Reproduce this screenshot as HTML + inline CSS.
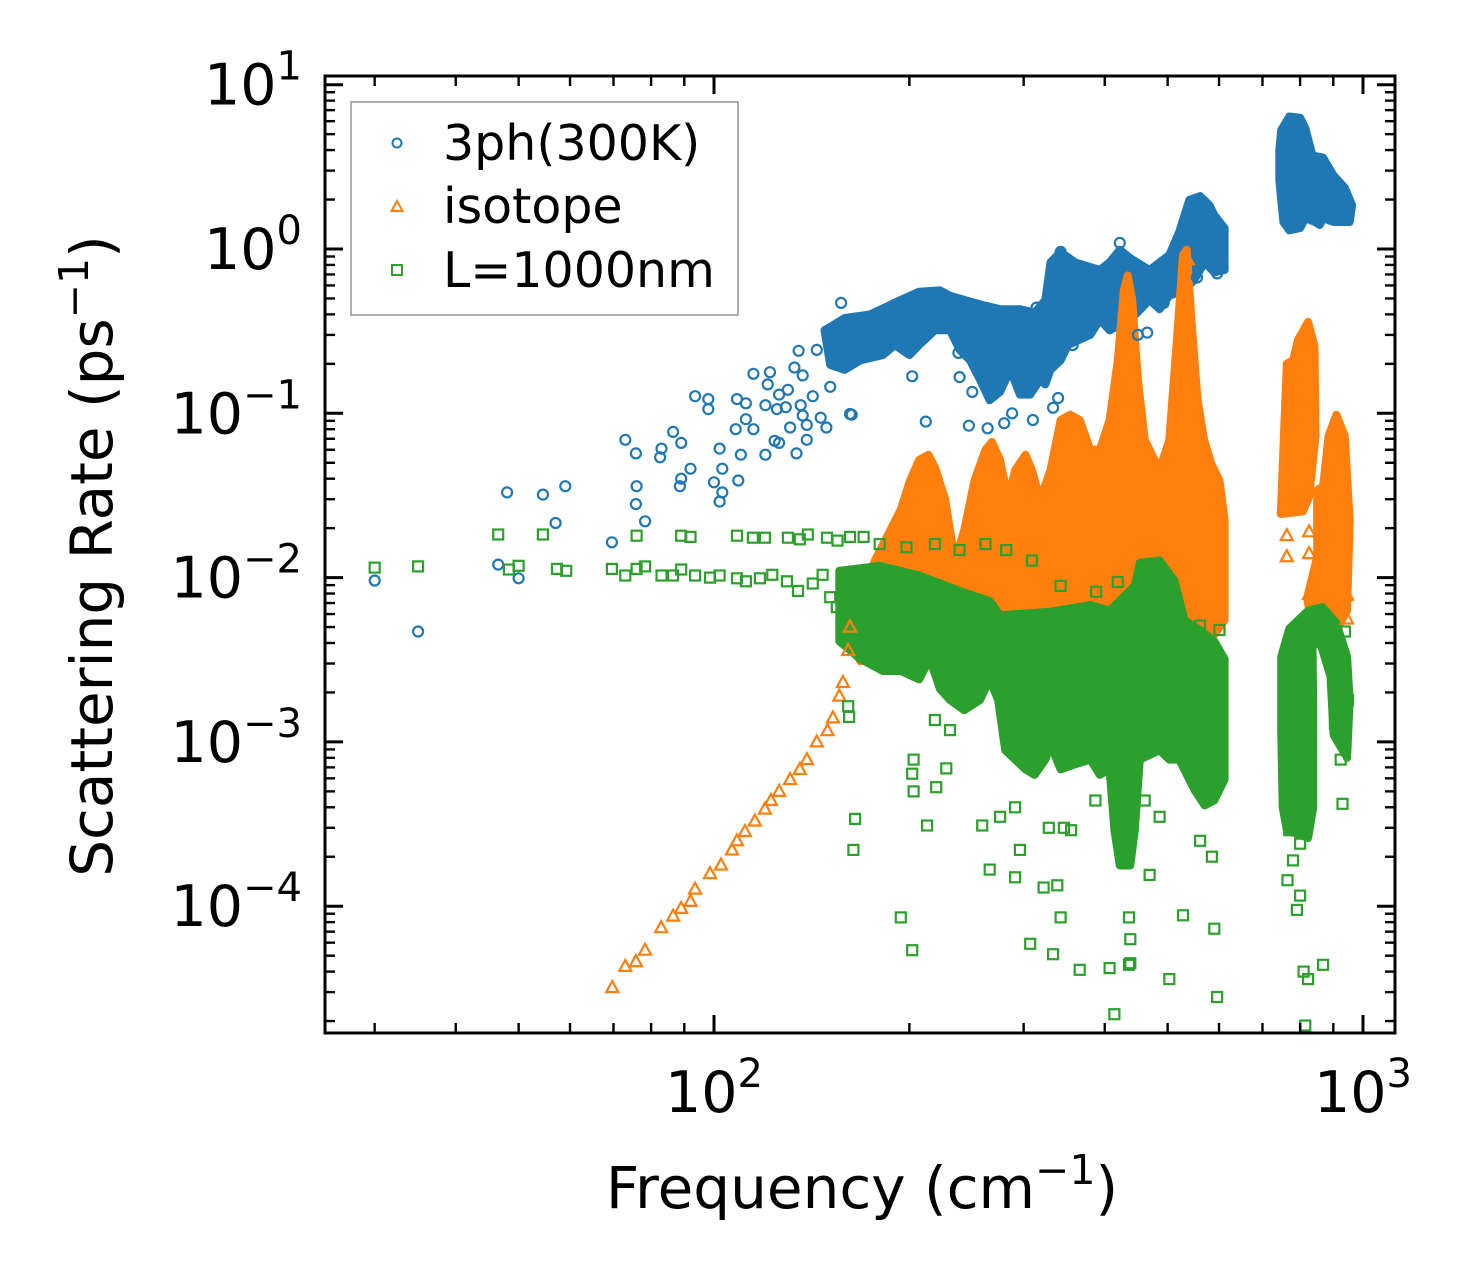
<!DOCTYPE html>
<html><head><meta charset="utf-8"><style>
html,body{margin:0;padding:0;background:#fff}
svg{display:block;font-family:"DejaVu Sans","Liberation Sans",sans-serif}
</style></head><body>
<svg id="chart" width="1472" height="1283" viewBox="0 0 1472 1283" xmlns="http://www.w3.org/2000/svg">
<rect width="1472" height="1283" fill="#fff"/>
<g id="dense"></g>
<g id="marks"></g>
<g id="axes"></g>
<g id="legend">
<rect x="351" y="102" width="387" height="213" fill="#fff" stroke="#999" stroke-width="1.6"/>
<circle cx="397" cy="143" r="4.5" fill="none" stroke="#1f77b4" stroke-width="2"/>
<text x="443" y="160" font-size="49">3ph(300K)</text>
<polygon points="397,201 402.5,211 391.5,211" fill="none" stroke="#ff7f0e" stroke-width="2"/>
<text x="443" y="223" font-size="49">isotope</text>
<rect x="392" y="265" width="10" height="10" fill="none" stroke="#2ca02c" stroke-width="2"/>
<text x="443" y="287" font-size="49">L=1000nm</text>
</g>
<text x="862" y="1208" font-size="58" text-anchor="middle">Frequency (cm<tspan dy="-24" font-size="41">−1</tspan><tspan dy="24">)</tspan></text>
<text transform="translate(112,556) rotate(-90)" font-size="58" text-anchor="middle">Scattering Rate (ps<tspan dy="-24" font-size="41">−1</tspan><tspan dy="24">)</tspan></text>
</svg>
<script>
// ---- data (frequency cm^-1, scattering rate ps^-1) ----
const blueFreq=[30,35,46.5,48,50,54.5,59,57,69.6,73,75.8,76,75.8,78.3,83,82.6,86.5,89,92,89,88.6,93.5,98,98,102,103,100,103,102,109,108.5,112,112,115,110,108,115,122,121,120,124,120,126,130,125,129,131,134,136,137,139,139,133,135,144,137,142,146,149,151,155,156,162,126,163,212,247,264,288,310,333,339,250,239,202,238,357,450,465,493,555,596,157,257,314,330,422,342,280];
const blueRate=[0.0096,0.0047,0.012,0.033,0.0099,0.032,0.036,0.0215,0.0164,0.069,0.057,0.036,0.028,0.022,0.061,0.054,0.077,0.066,0.046,0.040,0.036,0.127,0.122,0.106,0.061,0.046,0.038,0.033,0.029,0.039,0.122,0.115,0.092,0.080,0.056,0.080,0.174,0.178,0.15,0.112,0.068,0.056,0.13,0.139,0.106,0.109,0.082,0.057,0.112,0.097,0.085,0.069,0.19,0.24,0.243,0.17,0.127,0.094,0.082,0.145,0.295,0.197,0.099,0.066,0.098,0.089,0.084,0.081,0.1,0.091,0.108,0.124,0.135,0.166,0.168,0.233,0.26,0.30,0.31,0.47,0.67,0.71,0.47,0.44,0.44,0.51,1.09,0.96,0.087];
const blueBandFreq=[148,159,174,194,207,223,231,243,257,276,296,312,324,330,342,360,393,407,422,438,469,503,521,540,561,580,590,612,612,590,570,550,531,503,486,469,438,407,393,380,351,342,330,324,318,307,296,286,276,266,257,248,239,231,219,207,200,190,182,168,159,151];
const blueBandRate=[0.32,0.38,0.40,0.49,0.55,0.56,0.52,0.49,0.46,0.43,0.43,0.41,0.49,0.83,0.96,0.83,0.745,0.83,0.99,0.88,0.745,0.92,1.27,1.99,2.1,1.85,1.61,1.34,0.745,0.72,0.83,0.65,0.56,0.52,0.43,0.49,0.37,0.32,0.37,0.30,0.26,0.21,0.184,0.15,0.16,0.13,0.13,0.184,0.135,0.12,0.16,0.21,0.243,0.32,0.32,0.26,0.226,0.26,0.226,0.21,0.184,0.197];
const blueHighFreq=[748,770,800,815,836,868,901,938,962,954,901,868,858,843,815,800,770,754,743,743];
const blueHighRate=[5.3,6.4,6.3,5.45,3.7,3.6,2.8,2.35,1.85,1.46,1.46,1.54,1.4,1.46,1.54,1.34,1.3,1.46,2.63,4.0];

const orangeFreq=[69.7,73,75.8,78.3,82.9,86.5,89,92,93.5,98.6,102.5,106.6,108.5,111.6,115.6,119.8,122.4,126,131,135.6,139,144,149.6,152.5,156,158,161,162,763,763,826,826,945,945,910,826,537,531];
const orangeRate=[3.2e-5,4.3e-5,4.6e-5,5.4e-5,7.4e-5,8.7e-5,9.7e-5,1.07e-4,1.27e-4,1.58e-4,1.78e-4,2.2e-4,2.5e-4,2.85e-4,3.3e-4,3.9e-4,4.4e-4,5.0e-4,5.9e-4,6.8e-4,7.8e-4,1.0e-3,1.17e-3,1.4e-3,1.9e-3,2.3e-3,3.6e-3,5.0e-3,0.018,0.0134,0.019,0.014,0.0078,0.0056,0.0073,0.0079,0.86,0.164];
const orangeBandFreq=[162,168,177,187,194,200.5,207,214,219,227,235,243,252,262,268,276,284,291,302,309,318,330,342,354,366,380,393,407,419,428,434,441,450,461,486,503,518,528,535,544,556,569,583,601,612,612,580,469,276,194,168];
const orangeBandRate=[0.0041,0.0072,0.0127,0.0195,0.026,0.039,0.052,0.056,0.047,0.030,0.0127,0.0195,0.039,0.06,0.067,0.052,0.030,0.045,0.056,0.045,0.030,0.045,0.091,0.098,0.091,0.06,0.06,0.091,0.21,0.56,0.69,0.49,0.16,0.069,0.045,0.069,0.32,0.92,0.99,0.37,0.12,0.069,0.05,0.039,0.0223,0.0055,0.0041,0.0041,0.0041,0.0036,0.0031];
const orangeHighFreq=[747,763,780,794,823,842,845,826,808];
const orangeHighRate=[0.0244,0.2,0.21,0.28,0.36,0.257,0.073,0.031,0.0253];
const orangeHigh2Freq=[850,868,885,910,937,954,945,913,872,858,836,820,850];
const orangeHigh2Rate=[0.034,0.036,0.073,0.098,0.073,0.0223,0.0063,0.0049,0.0063,0.0075,0.0049,0.0075,0.0134];

const greenFreq=[30,35,46.5,48.3,50,54.5,57.3,59.2,69.6,73,76,76,78.3,83,86.5,89,92,89,93.5,98.6,102,108.5,114.8,119.8,108.5,112,117.7,123,130,135.6,139.5,129.5,134.7,142,149.3,155,162,147,154.6,151,161,161.5,165,164,
194,202,202,203,203,213,220,228,219,231,266,259,296,291,307,322,333,342,366,407,414,436,438,436,438,503,528,590,596,585,561,486,461,387,346,338,355,328,276,291,469,
170,180,198,219,239,262,282,309,342,388,419,469,561,601,
765,780,800,791,810,823,868,815,770,800,930,924,948,938,938,905];
const greenRate=[0.0115,0.0117,0.0183,0.0112,0.0118,0.0183,0.0113,0.011,0.0113,0.0103,0.018,0.0113,0.0117,0.0103,0.0103,0.018,0.0177,0.0112,0.0103,0.01,0.0103,0.018,0.0175,0.0175,0.0099,0.0095,0.0099,0.0104,0.0175,0.0171,0.0183,0.0095,0.0083,0.0092,0.0175,0.0168,0.0177,0.0104,0.0066,0.0076,0.00165,0.00142,0.00034,0.00022,
0.0000855,0.000054,0.00064,0.0005,0.00078,0.00031,0.00053,0.00069,0.00136,0.00118,0.000167,0.00031,0.00022,0.00015,0.000059,0.00013,0.000051,0.0000855,0.000041,0.000042,0.000022,0.0000855,0.000063,0.000044,0.000045,0.000036,0.000088,0.000073,0.000028,0.0002,0.00025,0.00035,0.00044,0.00044,0.0003,0.000134,0.00029,0.0003,0.00035,0.0004,0.000155,
0.0177,0.016,0.0153,0.016,0.0147,0.016,0.0147,0.0127,0.0089,0.0082,0.0094,0.0072,0.0051,0.0048,
0.000144,0.00019,0.000116,0.000095,0.00004,0.000036,0.000044,0.0000188,0.00029,0.00024,0.00042,0.00078,0.0018,0.0024,0.0047,0.0013];
const greenBandFreq=[156,180,207,239,266,276,330,380,407,445,453,486,512,531,561,590,612,612,590,570,550,521,503,486,453,445,438,422,414,407,393,380,360,342,330,324,312,302,291,281,274,266,257,243,231,223,215,207,194,182,168,156];
const greenBandRate=[0.011,0.0118,0.0103,0.0083,0.0072,0.0059,0.0062,0.0068,0.0063,0.0089,0.0123,0.0127,0.0096,0.0055,0.0048,0.0041,0.0032,0.00059,0.00044,0.00041,0.00051,0.00078,0.00078,0.00089,0.00078,0.00029,0.000177,0.000177,0.00029,0.00068,0.00063,0.00078,0.00073,0.00068,0.00096,0.00078,0.00063,0.00068,0.00078,0.00089,0.0018,0.0024,0.0018,0.00156,0.0018,0.0021,0.0032,0.0024,0.0027,0.0027,0.0032,0.0041];
const greenHighFreq=[748,770,823,866,910,945,954,945,901,891,858,836,838,838,823,763,752,748];
const greenHighRate=[0.0033,0.0049,0.0063,0.0066,0.0053,0.0033,0.0018,0.0008,0.0011,0.0025,0.0041,0.0038,0.0018,0.0004,0.00026,0.00029,0.0004,0.00118];

const yTickExps=[1,0,-1,-2,-3,-4];
const xTickExps=[2,3];

// ---- axes mapping ----
const X0=325,X1=1395,Y0=76,Y1=1033;
function xs(f){return 714+(Math.log10(f)-2)*649;}
function ys(v){return 249-Math.log10(v)*164.3;}
const NS='http://www.w3.org/2000/svg';
function mk(tag,attrs,parent){const e=document.createElementNS(NS,tag);for(const k in attrs)e.setAttribute(k,attrs[k]);parent.appendChild(e);return e;}
const C={b:'#1f77b4',o:'#ff7f0e',g:'#2ca02c'};
const dense=document.getElementById('dense'),marks=document.getElementById('marks'),axes=document.getElementById('axes');

function band(fr,rt,col,name,parent){
  const pts=fr.map((f,i)=>xs(f).toFixed(1)+','+ys(rt[i]).toFixed(1)).join(' ');
  const p=mk('polygon',{points:pts,fill:col,stroke:col,'stroke-width':8,'stroke-linejoin':'round'},parent);
  
  
}
function circles(fr,rt){fr.forEach((f,i)=>{const c=mk('circle',{cx:xs(f).toFixed(1),cy:ys(rt[i]).toFixed(1),r:5,fill:'none',stroke:C.b,'stroke-width':2.2},marks);
  
  });}
function tris(fr,rt){fr.forEach((f,i)=>{const x=xs(f),y=ys(rt[i]);const t=mk('polygon',{points:`${x},${y-6.5} ${x+6},${y+4.5} ${x-6},${y+4.5}`,fill:'none',stroke:C.o,'stroke-width':2.2},marks);
  
  });}
function squares(fr,rt){fr.forEach((f,i)=>{const s=mk('rect',{x:(xs(f)-5).toFixed(1),y:(ys(rt[i])-5).toFixed(1),width:10,height:10,fill:'none',stroke:C.g,'stroke-width':2.2},marks);
  
  });}

band(blueBandFreq,blueBandRate,C.b,'3ph-dense-band',dense);
band(blueHighFreq,blueHighRate,C.b,'3ph-high-freq-band',dense);
band(orangeBandFreq,orangeBandRate,C.o,'isotope-dense-band',dense);
band(orangeHighFreq,orangeHighRate,C.o,'isotope-high-freq-band',dense);
band(orangeHigh2Freq,orangeHigh2Rate,C.o,'isotope-high-freq-band-2',dense);
band(greenBandFreq,greenBandRate,C.g,'boundary-dense-band',dense);
band(greenHighFreq,greenHighRate,C.g,'boundary-high-freq-band',dense);
circles(blueFreq,blueRate);
tris(orangeFreq,orangeRate);
squares(greenFreq,greenRate);

// ---- frame and ticks ----
const fr=mk('rect',{x:X0,y:Y0,width:X1-X0,height:Y1-Y0,fill:'none',stroke:'#000','stroke-width':3},axes);


function tk(x1,y1,x2,y2,w){mk('line',{x1,y1,x2,y2,stroke:'#000','stroke-width':w},axes);}
for(let e=-5;e<=1;e++){for(let m=1;m<=9;m++){const v=m*Math.pow(10,e);const y=ys(v);if(y<Y0+1||y>Y1-1)continue;const L=m===1?18:10,w=m===1?3:2.4;tk(X0,y,X0+L,y,w);tk(X1,y,X1-L,y,w);}}
for(let e=1;e<=3;e++){for(let m=1;m<=9;m++){const f=m*Math.pow(10,e);const x=xs(f);if(x<X0+1||x>X1-1)continue;const L=m===1?18:10,w=m===1?3:2.4;tk(x,Y1,x,Y1-L,w);tk(x,Y0,x,Y0+L,w);}}
yTickExps.forEach(e=>{const y=ys(Math.pow(10,e));const t=mk('text',{x:302,y:y+20,'font-size':57,'text-anchor':'end'},axes);
  
  
  t.innerHTML='10<tspan dy="-25" font-size="40">'+(e<0?'−'+(-e):e)+'</tspan>';});
xTickExps.forEach(e=>{const x=xs(Math.pow(10,e));const t=mk('text',{x:x,y:1112,'font-size':57,'text-anchor':'middle'},axes);
  
  
  t.innerHTML='10<tspan dy="-25" font-size="40">'+e+'</tspan>';});
</script>
</body></html>
